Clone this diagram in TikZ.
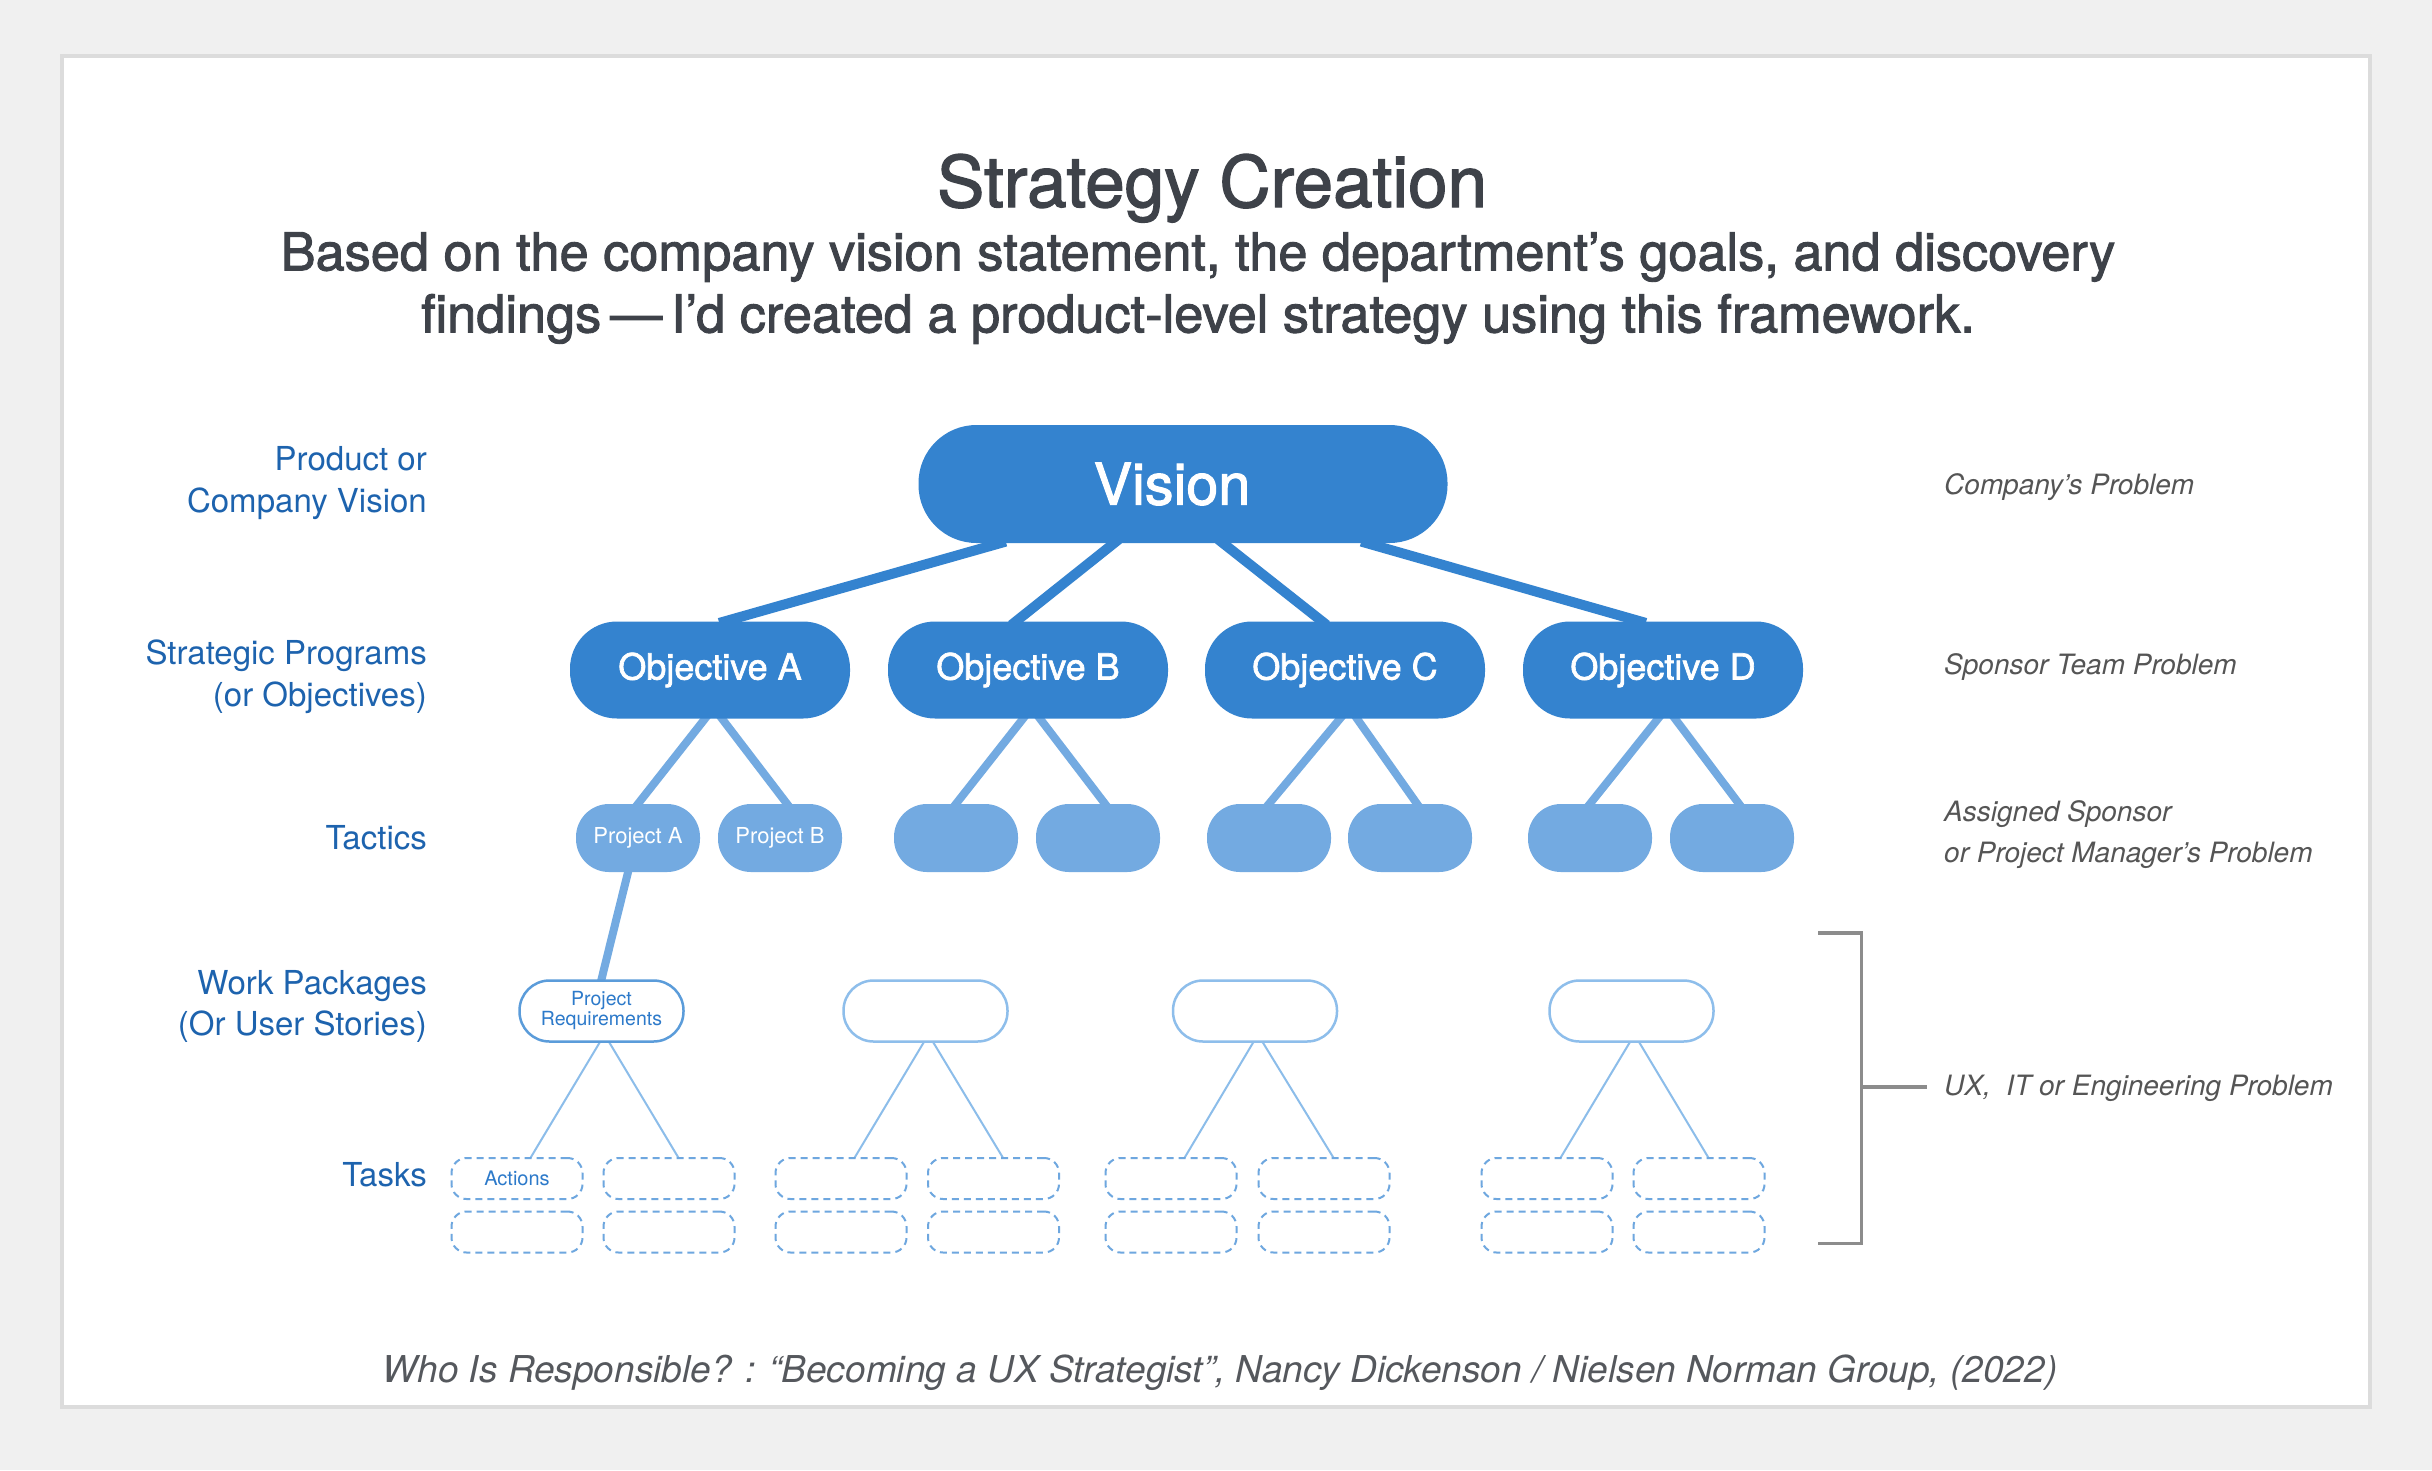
\documentclass[tikz,border=0pt]{standalone}
\usepackage{fontspec}
\setmainfont{TeX Gyre Heros}
\newfontfamily\medfont{TeX Gyre Heros}[FakeBold=1.8]
\usetikzlibrary{backgrounds}
\definecolor{cBg}{HTML}{F0F0F0}
\definecolor{cPanel}{HTML}{DCDCDC}
\definecolor{cText}{HTML}{3E4249}
\definecolor{cDark}{HTML}{3483CF}
\definecolor{cLight}{HTML}{73AAE1}
\definecolor{cWPdark}{HTML}{5B9CDA}
\definecolor{cWP}{HTML}{8EBEEB}
\definecolor{cTask}{HTML}{6EA7DF}
\definecolor{cThin}{HTML}{8CBDEA}
\definecolor{cLabel}{HTML}{1D63AE}
\definecolor{cNodeText}{HTML}{2D7ACA}
\definecolor{cNote}{HTML}{555555}
\definecolor{cCap}{HTML}{55585D}
\definecolor{cBrk}{HTML}{8C8C8C}
\tikzset{
  every node/.style={inner sep=0pt},
  visbox/.style={fill=cDark, text=white, rounded corners=58pt, minimum width=529pt, minimum height=118pt, font=\medfont\fontsize{57.5}{60}\selectfont},
  objbox/.style={fill=cDark, text=white, rounded corners=47pt, minimum width=280pt, minimum height=97pt, font=\medfont\fontsize{36}{40}\selectfont},
  tacbox/.style={fill=cLight, text=white, rounded corners=33pt, minimum width=124pt, minimum height=68pt, font=\fontsize{22}{24}\selectfont},
  wpbox/.style={draw=cWP, fill=white, line width=2.5pt, rounded corners=30pt, minimum width=164pt, minimum height=61pt, text=cNodeText, align=center, font=\fontsize{19.5}{20}\selectfont},
  wpmain/.style={wpbox, draw=cWPdark},
  taskbox/.style={draw=cTask, fill=white, line width=2pt, dash pattern=on 7pt off 5pt, rounded corners=15pt, minimum width=131pt, minimum height=41pt, text=cNodeText, font=\fontsize{20}{22}\selectfont},
  lefttxt/.style={text=cLabel, align=right, anchor=east, font=\fontsize{33}{41.5}\selectfont},
  righttxt/.style={text=cNote, align=left, anchor=west, font=\itshape\fontsize{28}{41}\selectfont},
  vline/.style={draw=cDark, line width=10pt, shorten <=-6pt, shorten >=-6pt},
  tline/.style={draw=cLight, line width=8pt, shorten <=-6pt, shorten >=-6pt},
  sline/.style={draw=cThin, line width=2pt, shorten <=-3pt, shorten >=-3pt},
  brk/.style={draw=cBrk, line width=3.3pt},
}
\begin{document}
\begin{tikzpicture}[x=1pt,y=-1pt]
\useasboundingbox (0,0) rectangle (2432,1470);
\begin{pgfonlayer}{background}
\fill[cBg] (0,0) rectangle (2432,1470);
\draw[draw=cPanel, fill=white, line width=3.5pt] (62,56) rectangle (2370,1407);
\end{pgfonlayer}

% titles
\node[anchor=base, text=cText, font=\medfont\fontsize{71}{80}\selectfont] (title) at (1212,207) {Strategy Creation};
\node[align=center, text=cText, font=\medfont\fontsize{52.3}{62}\selectfont] (subtitle) at (1198,288) {Based on the company vision statement, the department’s goals, and discovery\\findings\,—\,I’d created a product-level strategy using this framework.};

% main nodes
\node[visbox] (vision) at (1183,484) {\hspace*{-22pt}Vision};
\node[objbox] (objA) at (710,670) {Objective A};
\node[objbox] (objB) at (1028,670) {Objective B};
\node[objbox] (objC) at (1345,670) {Objective C};
\node[objbox] (objD) at (1663,670) {Objective D};

\node[tacbox] (tA1) at (638,838) {Project A};
\node[tacbox] (tA2) at (780,838) {Project B};
\node[tacbox] (tB1) at (956,838) {};
\node[tacbox] (tB2) at (1098,838) {};
\node[tacbox] (tC1) at (1269,838) {};
\node[tacbox] (tC2) at (1410,838) {};
\node[tacbox] (tD1) at (1590,838) {};
\node[tacbox] (tD2) at (1732,838) {};

\node[wpmain] (wA) at (601.5,1011) {Project\\Requirements};
\node[wpbox] (wB) at (925.5,1011) {};
\node[wpbox] (wC) at (1255,1011) {};
\node[wpbox] (wD) at (1631.5,1011) {};

\node[taskbox] (kA1) at (517,1178.5) {Actions};
\node[taskbox] (kA2) at (669,1178.5) {};
\node[taskbox] (kA3) at (517,1232) {};
\node[taskbox] (kA4) at (669,1232) {};
\node[taskbox] (kB1) at (841,1178.5) {};
\node[taskbox] (kB2) at (993.5,1178.5) {};
\node[taskbox] (kB3) at (841,1232) {};
\node[taskbox] (kB4) at (993.5,1232) {};
\node[taskbox] (kC1) at (1171,1178.5) {};
\node[taskbox] (kC2) at (1324,1178.5) {};
\node[taskbox] (kC3) at (1171,1232) {};
\node[taskbox] (kC4) at (1324,1232) {};
\node[taskbox] (kD1) at (1547,1178.5) {};
\node[taskbox] (kD2) at (1699,1178.5) {};
\node[taskbox] (kD3) at (1547,1232) {};
\node[taskbox] (kD4) at (1699,1232) {};

% connectors (behind nodes)
\begin{pgfonlayer}{background}
\draw[vline] ([xshift=-183pt]vision.south) -- ([xshift=15pt]objA.north);
\draw[vline] ([xshift=-69pt]vision.south) -- ([xshift=-12pt]objB.north);
\draw[vline] ([xshift=40pt]vision.south) -- ([xshift=-23pt]objC.north);
\draw[vline] ([xshift=184pt]vision.south) -- ([xshift=-23pt]objD.north);
\foreach \o/\a/\b in {objA/tA1/tA2, objB/tB1/tB2, objC/tC1/tC2, objD/tD1/tD2}{
  \draw[tline] ([xshift=-5pt]\o.south) -- (\a.north);
  \draw[tline] ([xshift=12pt]\o.south) -- ([xshift=7pt]\b.north);
}
\draw[tline] ([xshift=-10pt]tA1.south) -- (wA.north);
\foreach \w/\a/\b in {wA/kA1/kA2, wB/kB1/kB2, wC/kC1/kC2, wD/kD1/kD2}{
  \draw[sline] ([xshift=-2pt]\w.south) -- ([xshift=14pt]\a.north);
  \draw[sline] ([xshift=8pt]\w.south) -- ([xshift=9pt]\b.north);
}
\end{pgfonlayer}

% left labels
\node[lefttxt] (lV) at (427,483) {Product or\\Company Vision};
\node[lefttxt] (lS) at (427,677) {Strategic Programs\\(or Objectives)};
\node[lefttxt, anchor=base east] (lT) at (427,849) {Tactics};
\node[lefttxt] (lW) at (427,1006.5) {Work Packages\\(Or User Stories)};
\node[lefttxt, anchor=base east] (lK) at (427,1186) {Tasks};

% right labels
\node[righttxt, anchor=base west] (rV) at (1944,494) {Company’s Problem};
\node[righttxt, anchor=base west] (rS) at (1944,674) {Sponsor Team Problem};
\node[righttxt] (rT) at (1944,835) {Assigned Sponsor\\or Project Manager’s Problem};
\node[righttxt, anchor=base west] (rU) at (1944,1095) {UX,\ \ IT or Engineering Problem};

% bracket
\coordinate (b1) at (1818,933);
\coordinate (b2) at (1861.5,933);
\coordinate (b3) at (1861.5,1243.7);
\coordinate (b4) at (1818,1243.7);
\coordinate (bm) at (1861.5,1087);
\coordinate (bn) at (1927,1087);
\draw[brk] (b1) -- (b2) -- (b3) -- (b4);
\draw[brk] (bm) -- (bn);

% caption
\node[anchor=base, text=cCap, font=\itshape\fontsize{37}{40}\selectfont] (cap) at (1220,1382) {Who Is Responsible? : “Becoming a UX Strategist”, Nancy Dickenson / Nielsen Norman Group, (2022)};
\end{tikzpicture}
\end{document}
